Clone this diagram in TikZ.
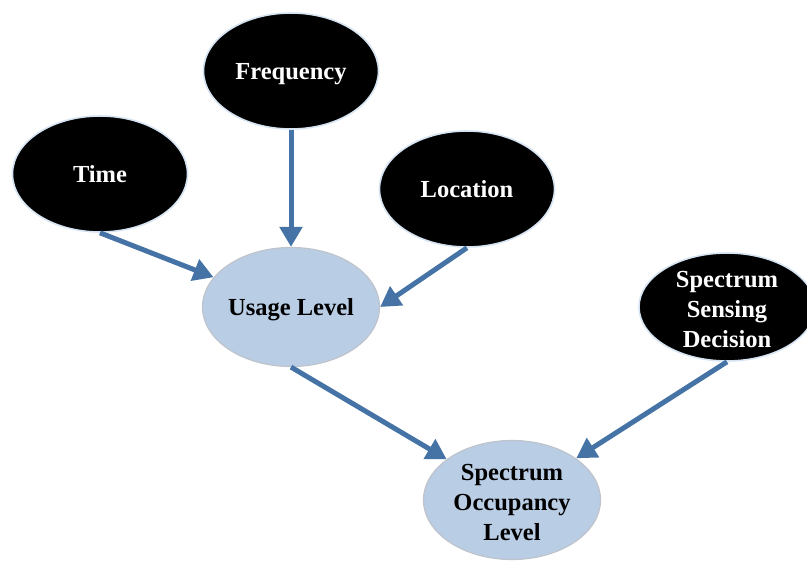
\documentclass[tikz,border=0pt]{standalone}
\usepackage{fontspec}
\setmainfont{Liberation Serif}
\usetikzlibrary{shapes.geometric,arrows.meta}

\definecolor{arrowblue}{HTML}{4673A5}
\definecolor{nodeblue}{HTML}{B9CDE5}
\definecolor{nodeedge}{HTML}{BFC4CC}
\definecolor{haloblue}{HTML}{D6E3F2}

\tikzset{
  darkell/.style={ellipse, fill=black, draw=haloblue, line width=1.6pt,
    inner sep=0pt, minimum width=175, minimum height=116},
  lightell/.style={ellipse, fill=nodeblue, draw=nodeedge, line width=1.2pt,
    inner sep=0pt, minimum width=177, minimum height=119},
  lbl/.style={font=\fontsize{24.5}{30}\selectfont\bfseries, align=center,
    inner sep=0pt},
  % one-line labels: box centred on the capitals, descenders ignored
  oneline/.style={text height=17pt, text depth=0pt},
  % stacked labels sit slightly below the box centre
  stacked/.style={yshift=-2.5pt},
  whitelbl/.style={lbl, text=white},
  link/.style={draw=arrowblue, line width=5pt,
    -{Triangle[length=20pt,width=22pt]}, shorten >=0pt},
}

\begin{document}
\begin{tikzpicture}[x=1pt,y=1pt]
  \useasboundingbox (0,0) rectangle (807,-562);

  % input variables
  \node[darkell] (time) at (100,-174) {};
  \node[whitelbl, oneline] (time-t) at (time) {Time};

  \node[darkell] (freq) at (291,-71) {};
  \node[whitelbl, oneline] (freq-t) at (freq) {Frequency};

  \node[darkell] (loc) at (467,-189) {};
  \node[whitelbl, oneline] (loc-t) at (loc) {Location};

  \node[darkell, minimum width=176, minimum height=108] (sense) at (727,-307) {};
  \node[whitelbl, stacked] (sense-t) at (sense) {Spectrum\\Sensing\\Decision};

  % derived variables
  \node[lightell] (usage) at (291,-307) {};
  \node[lbl, oneline] (usage-t) at (usage) {Usage Level};

  \node[lightell] (occ) at (512,-500) {};
  \node[lbl, stacked] (occ-t) at (occ) {Spectrum\\Occupancy\\Level};

  % dependencies
  \draw[link] (time.south) -- (usage.159);
  \draw[link] (freq.south) -- (usage.north);
  \draw[link] (loc.south) -- (usage.east);
  \draw[link] (usage.south) -- (occ.148);
  \draw[link] (sense.south) -- (occ.33);
\end{tikzpicture}
\end{document}
